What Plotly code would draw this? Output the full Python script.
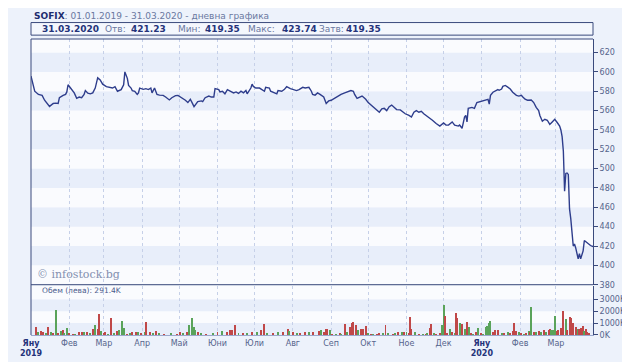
import plotly.graph_objects as go

# ---------------- data ----------------
price_dates = [
    "2019-01-01","2019-01-02","2019-01-04","2019-01-07","2019-01-10","2019-01-12","2019-01-15","2019-01-16",
    "2019-01-19","2019-01-21","2019-01-23","2019-01-24","2019-01-27","2019-01-29","2019-01-30","2019-01-31",
    "2019-02-02","2019-02-05","2019-02-07","2019-02-09","2019-02-11","2019-02-13","2019-02-14","2019-02-16",
    "2019-02-18","2019-02-20","2019-02-22","2019-02-24","2019-02-26","2019-02-28","2019-03-03","2019-03-05",
    "2019-03-08","2019-03-10","2019-03-12","2019-03-15","2019-03-16","2019-03-17","2019-03-18","2019-03-20",
    "2019-03-21","2019-03-23","2019-03-24","2019-03-26","2019-03-28","2019-03-29","2019-03-30","2019-04-02",
    "2019-04-04","2019-04-06","2019-04-08","2019-04-09","2019-04-11","2019-04-13","2019-04-15","2019-04-18",
    "2019-04-20","2019-04-23","2019-04-25","2019-04-28","2019-04-30","2019-05-03","2019-05-06","2019-05-08",
    "2019-05-10","2019-05-12","2019-05-13","2019-05-16","2019-05-19","2019-05-20","2019-05-22","2019-05-25",
    "2019-05-27","2019-05-29","2019-05-30","2019-06-02","2019-06-03","2019-06-05","2019-06-07","2019-06-09",
    "2019-06-11","2019-06-14","2019-06-16","2019-06-18","2019-06-20","2019-06-22","2019-06-24","2019-06-25",
    "2019-06-28","2019-06-29","2019-06-30","2019-07-02","2019-07-05","2019-07-07","2019-07-09","2019-07-10",
    "2019-07-13","2019-07-14","2019-07-17","2019-07-19","2019-07-20","2019-07-23","2019-07-25","2019-07-27",
    "2019-07-30","2019-08-01","2019-08-04","2019-08-06","2019-08-09","2019-08-11","2019-08-14","2019-08-16",
    "2019-08-17","2019-08-19","2019-08-21","2019-08-23","2019-08-26","2019-08-28","2019-08-30","2019-09-01",
    "2019-09-04","2019-09-06","2019-09-09","2019-09-12","2019-09-14","2019-09-17","2019-09-19","2019-09-20",
    "2019-09-22","2019-09-23","2019-09-26","2019-09-27","2019-09-29","2019-10-01","2019-10-04","2019-10-06",
    "2019-10-10","2019-10-12","2019-10-14","2019-10-16","2019-10-18","2019-10-20","2019-10-22","2019-10-24",
    "2019-10-27","2019-10-29","2019-10-31","2019-11-03","2019-11-05","2019-11-07","2019-11-09","2019-11-11",
    "2019-11-13","2019-11-15","2019-11-17","2019-11-20","2019-11-22","2019-11-25","2019-11-28","2019-12-01",
    "2019-12-03","2019-12-05","2019-12-08","2019-12-10","2019-12-13","2019-12-14","2019-12-16","2019-12-18",
    "2019-12-19","2019-12-20","2019-12-21","2019-12-24","2019-12-26","2019-12-28","2019-12-31","2020-01-03",
    "2020-01-06","2020-01-07","2020-01-08","2020-01-10","2020-01-12","2020-01-14","2020-01-15","2020-01-17",
    "2020-01-18","2020-01-20","2020-01-22","2020-01-24","2020-01-26","2020-01-29","2020-01-31","2020-02-02",
    "2020-02-03","2020-02-05","2020-02-07","2020-02-10","2020-02-12","2020-02-14","2020-02-16","2020-02-17",
    "2020-02-19","2020-02-21","2020-02-23","2020-02-25","2020-02-27","2020-02-29","2020-03-02","2020-03-04",
    "2020-03-05","2020-03-06","2020-03-07","2020-03-08","2020-03-09","2020-03-10","2020-03-11","2020-03-12",
    "2020-03-13","2020-03-14","2020-03-15","2020-03-16","2020-03-17","2020-03-19","2020-03-20","2020-03-21",
    "2020-03-23","2020-03-24","2020-03-26","2020-03-29","2020-03-31",
]
price_values = [
    595.7,590.0,580.0,576.7,575.7,570.7,566.7,564.3,
    567.3,567.7,567.3,573.3,575.7,576.7,579.3,586.7,
    583.3,578.3,572.7,574.0,573.3,576.7,580.7,578.0,
    577.3,578.3,583.3,594.0,591.7,587.3,584.7,584.0,
    583.3,584.7,580.0,581.7,584.0,586.7,600.0,593.3,
    586.0,583.3,580.7,580.0,576.7,578.3,583.3,582.0,
    582.7,581.7,583.3,578.3,583.3,576.7,576.0,575.7,
    574.0,571.0,573.3,575.5,575.7,573.3,570.7,568.3,
    571.7,566.7,564.0,569.3,570.0,569.3,573.3,575.0,
    574.0,574.0,582.7,581.7,579.3,580.0,577.3,581.7,
    580.0,578.3,579.3,577.7,580.0,578.3,580.7,577.3,
    583.3,587.3,585.0,583.3,583.3,581.7,580.0,584.0,
    583.3,580.0,578.3,577.3,580.7,580.0,581.7,584.7,
    582.7,581.7,580.7,581.7,584.0,583.3,584.0,580.0,
    576.7,576.0,578.3,576.7,574.0,567.3,570.0,570.7,
    573.3,575.0,576.7,578.3,579.3,580.7,580.0,576.7,
    572.7,573.3,575.0,574.0,571.7,568.3,565.0,562.3,
    558.3,561.7,562.3,560.0,564.0,565.7,563.3,561.0,
    560.7,558.3,556.7,555.0,553.3,558.3,560.0,558.3,
    559.3,556.7,555.0,551.7,550.0,546.7,544.0,547.3,
    545.0,545.0,548.3,545.0,544.0,545.0,541.7,553.3,
    555.0,548.3,562.3,563.3,562.3,568.3,569.3,570.0,
    571.7,566.7,575.7,579.0,580.0,581.7,581.0,582.3,
    585.0,586.0,584.3,582.3,579.0,575.7,575.0,575.7,
    574.3,571.7,570.7,571.0,568.3,563.3,560.0,555.0,
    549.0,551.0,550.0,545.7,548.3,551.0,547.7,544.0,
    540.0,533.0,518.0,476.7,495.0,495.5,494.0,458.3,
    448.3,435.0,420.0,422.0,418.0,406.7,412.0,406.7,
    415.0,425.7,423.3,420.5,419.35,
]

# volume in thousands of leva; direction u = up day (green), d = down day (red)
vol_dates = [
    "2019-01-05","2019-01-07","2019-01-09","2019-01-11","2019-01-13","2019-01-15","2019-01-17","2019-01-19",
    "2019-01-21","2019-01-23","2019-01-25","2019-01-27","2019-01-28","2019-01-30","2019-02-01","2019-02-04",
    "2019-02-06","2019-02-09","2019-02-11","2019-02-13","2019-02-15","2019-02-18","2019-02-20","2019-02-22",
    "2019-02-24","2019-02-25","2019-02-27","2019-03-01","2019-03-02","2019-03-04","2019-03-07","2019-03-09",
    "2019-03-12","2019-03-13","2019-03-16","2019-03-17","2019-03-20","2019-03-22","2019-03-24","2019-03-27",
    "2019-03-29","2019-03-31","2019-04-03","2019-04-04","2019-04-07","2019-04-10","2019-04-12","2019-04-15",
    "2019-04-19","2019-04-24","2019-04-29","2019-05-02","2019-05-04","2019-05-07","2019-05-09","2019-05-11",
    "2019-05-13","2019-05-14","2019-05-16","2019-05-19","2019-05-23","2019-05-28","2019-06-01","2019-06-05",
    "2019-06-09","2019-06-11","2019-06-13","2019-06-15","2019-06-18","2019-06-22","2019-06-25","2019-06-29",
    "2019-07-03","2019-07-06","2019-07-09","2019-07-11","2019-07-16","2019-07-20","2019-07-24","2019-07-28",
    "2019-07-29","2019-08-01","2019-08-04","2019-08-07","2019-08-11","2019-08-14","2019-08-17","2019-08-22",
    "2019-08-24","2019-08-26","2019-08-28","2019-08-29","2019-08-31","2019-09-02","2019-09-05","2019-09-08",
    "2019-09-09","2019-09-12","2019-09-14","2019-09-16","2019-09-18","2019-09-19","2019-09-21","2019-09-23",
    "2019-09-25","2019-09-27","2019-09-29","2019-10-01","2019-10-03","2019-10-05","2019-10-08","2019-10-10",
    "2019-10-13","2019-10-15","2019-10-17","2019-10-21","2019-10-23","2019-10-25","2019-10-28","2019-10-30",
    "2019-11-01","2019-11-03","2019-11-04","2019-11-05","2019-11-08","2019-11-11","2019-11-14","2019-11-17",
    "2019-11-18","2019-11-20","2019-11-21","2019-11-23","2019-11-25","2019-11-28","2019-11-30","2019-12-01",
    "2019-12-02","2019-12-04","2019-12-06","2019-12-08","2019-12-10","2019-12-11","2019-12-12","2019-12-14",
    "2019-12-16","2019-12-18","2019-12-20","2019-12-22","2019-12-23","2019-12-25","2019-12-27","2019-12-29",
    "2019-12-31","2020-01-02","2020-01-04","2020-01-05","2020-01-07","2020-01-08","2020-01-10","2020-01-12",
    "2020-01-14","2020-01-17","2020-01-19","2020-01-22","2020-01-24","2020-01-26","2020-01-27","2020-01-29",
    "2020-01-31","2020-02-02","2020-02-04","2020-02-06","2020-02-08","2020-02-09","2020-02-10","2020-02-12",
    "2020-02-14","2020-02-16","2020-02-18","2020-02-20","2020-02-22","2020-02-24","2020-02-25","2020-02-26",
    "2020-02-28","2020-02-29","2020-03-02","2020-03-03","2020-03-05","2020-03-06","2020-03-07","2020-03-09",
    "2020-03-10","2020-03-12","2020-03-13","2020-03-14","2020-03-15","2020-03-17","2020-03-19","2020-03-20",
    "2020-03-21","2020-03-23","2020-03-24","2020-03-25","2020-03-26","2020-03-28",
]
vol_values = [
    678,244,379,298,190,678,298,190,
    2141,190,325,407,190,596,190,136,
    136,244,298,271,244,190,515,840,
    515,1816,352,190,298,136,1490,190,
    325,461,1220,623,136,190,244,298,
    244,190,244,1138,244,190,325,190,
    136,190,136,244,190,244,867,1490,
    732,461,298,190,136,190,244,325,
    244,461,461,867,190,190,190,244,
    244,407,921,190,190,244,298,515,
    352,298,190,190,244,298,244,325,
    407,298,542,542,407,136,136,190,
    136,949,244,678,1003,1111,867,461,
    515,515,786,190,136,81,136,190,
    190,867,190,136,190,244,298,298,
    244,190,1545,569,298,136,136,136,
    190,596,949,190,136,190,867,2575,
    1600,190,515,244,190,1870,1463,1003,
    949,515,1084,678,190,136,244,596,
    190,136,678,786,1003,1220,244,461,
    407,190,190,244,190,325,1003,379,
    298,190,136,190,325,244,2412,298,
    244,325,244,407,298,461,569,407,
    461,1653,325,461,596,515,2087,1409,
    461,1545,1463,949,1057,678,515,569,
    596,786,325,515,298,190,
]
vol_dirs = (
    "d u d d u d u d "
    "u d u d u u d d "
    "u d d u d u d u "
    "d d u d d u d u "
    "d u u u d u d d "
    "u d u d d u d u "
    "d u d d u d u u "
    "u u d u d u d u "
    "d d d d u d u d "
    "u d d u d u d d "
    "u d u d d u d d "
    "u d d d u d u d "
    "u d u d d d d u "
    "d d d u d u d d "
    "u d u d u d u d "
    "u d d d u d u d "
    "u d d u d d u u "
    "d d u d u d d u "
    "d u d u d u d u "
    "d u u u u u d d "
    "d u d u d d d d "
    "u d u d u d u d "
    "u d u d u d d u "
    "u u d d d d d u "
    "d d d d d d u d "
    "d d u d d d"
).split()

month_ticks = [
    "2019-01-01","2019-02-01","2019-03-01","2019-04-01","2019-05-01","2019-06-01","2019-07-01","2019-08-01",
    "2019-09-01","2019-10-01","2019-11-01","2019-12-01","2020-01-01","2020-02-01","2020-03-01",
]
month_labels = [
    "Яну|2019","Фев","Мар","Апр","Май","Юни","Юли","Авг","Сеп","Окт","Ное","Дек","Яну|2020","Фев","Мар",
]
price_ticks = [380, 400, 420, 440, 460, 480, 500, 520, 540, 560, 580, 600, 620]
vol_ticks = [0, 1000, 2000, 3000]
vol_tick_labels = ["0K", "1000K", "2000K", "3000K"]

title_name = "SOFIX"
title_rest = ": 01.01.2019 - 31.03.2020 - дневна графика"
info_items = [("31.03.2020", True), ("Отв:", False), ("421.23", True), ("Мин:", False), ("419.35", True),
              ("Макс:", False), ("423.74", True), ("Затв:", False), ("419.35", True)]
volume_caption = "Обем (лева): 291.4K"
watermark = "© infostock.bg"

# ---------------- styling ----------------
NAVY = "#2e3d8c"
FRAME = "#3a4a7c"
LABEL = "#55648c"
BAND = "#e8eefa"
WHITE = "#fafbfe"
PAPER = "#edf2fb"
FONT = "DejaVu Sans"

vol_colors = ["#5aa35a" if d == "u" else "#c04848" for d in vol_dirs]

W, H = 630, 362
ML, MR, MT, MB = 15, 33, 31, 25
plot_h = H - MT - MB
price_bottom_px = 285
vol_top_px = 286
price_dom = [(H - MB - price_bottom_px) / plot_h, 1.0]
vol_dom = [0.0, (H - MB - vol_top_px) / plot_h]
vol_max = (H - MB - vol_top_px) / 12.3 * 1000


def px_y(py):
    return (H - MB - py) / plot_h


def px_x(px):
    return (px - ML) / (W - ML - MR)


fig = go.Figure()
fig.add_trace(go.Scatter(x=price_dates, y=price_values, mode="lines",
                         line=dict(color=NAVY, width=1.4), xaxis="x", yaxis="y",
                         hoverinfo="skip"))
fig.add_trace(go.Bar(x=vol_dates, y=vol_values, marker=dict(color=vol_colors, line=dict(width=0)),
                     width=0.8 * 86400000, xaxis="x", yaxis="y2", hoverinfo="skip"))

shapes = []
# price bands
lo = 380
while lo < 634:
    hi = min(lo + 20, 634)
    idx = (620 - hi) // 20 if hi <= 620 else -1
    color = BAND if (hi <= 620 and idx % 2 == 0) else WHITE
    shapes.append(dict(type="rect", xref="paper", yref="y", x0=0, x1=1, y0=lo, y1=hi,
                       fillcolor=color, line=dict(width=0), layer="below"))
    lo = hi
# volume bands
for lo_v, hi_v, c in [(0, 1000, BAND), (1000, 2000, WHITE), (2000, 3000, BAND), (3000, vol_max, WHITE)]:
    shapes.append(dict(type="rect", xref="paper", yref="y2", x0=0, x1=1, y0=lo_v, y1=hi_v,
                       fillcolor=c, line=dict(width=0), layer="below"))
# frame lines
shapes.append(dict(type="line", xref="paper", yref="paper", x0=0, x1=1, y0=1, y1=1,
                   line=dict(color=FRAME, width=1)))
shapes.append(dict(type="line", xref="paper", yref="paper", x0=0, x1=0, y0=0, y1=1,
                   line=dict(color=FRAME, width=1)))
shapes.append(dict(type="line", xref="paper", yref="paper", x0=0, x1=1, y0=price_dom[0], y1=price_dom[0],
                   line=dict(color=FRAME, width=1)))
# header info box
shapes.append(dict(type="rect", xref="paper", yref="paper", x0=0, x1=1, y0=px_y(27), y1=px_y(14),
                   fillcolor="#f4f7fd", line=dict(color=FRAME, width=1)))

annotations = []
annotations.append(dict(xref="paper", yref="paper", x=px_x(16), y=px_y(7), xanchor="left", yanchor="middle",
                        showarrow=False,
                        text=f"<b>{title_name}</b><span style='color:#6a78a0'>{title_rest}</span>",
                        font=dict(family=FONT, size=9, color="#1e2c6e")))
info_x = [24, 90, 116, 165, 193, 238, 273, 311, 339]
for (txt, bold), xp in zip(info_items, info_x):
    annotations.append(dict(xref="paper", yref="paper", x=px_x(xp), y=px_y(20.5), xanchor="left",
                            yanchor="middle", showarrow=False,
                            text=f"<b>{txt}</b>" if bold else txt,
                            font=dict(family=FONT, size=9, color="#24337a" if bold else "#6a78a0")))
annotations.append(dict(xref="paper", yref="paper", x=px_x(19), y=px_y(274), xanchor="left", yanchor="middle",
                        showarrow=False, text=watermark,
                        font=dict(family="DejaVu Serif", size=11, color="#8390b0")))
annotations.append(dict(xref="paper", yref="paper", x=px_x(24), y=px_y(290.5), xanchor="left", yanchor="middle",
                        showarrow=False, text=volume_caption,
                        font=dict(family=FONT, size=7.5, color="#4a5a8c")))

tick_text = []
for lab in month_labels:
    if "|" in lab:
        m, y = lab.split("|")
        tick_text.append(f"<b><span style='color:#24337a'>{m}</span></b><br><b><span style='color:#24337a'>{y}</span></b>")
    else:
        tick_text.append(lab)

fig.update_layout(
    width=W, height=H,
    margin=dict(l=ML, r=MR, t=MT, b=MB, pad=0),
    paper_bgcolor=PAPER, plot_bgcolor=WHITE,
    showlegend=False, bargap=0,
    shapes=shapes, annotations=annotations,
    xaxis=dict(type="date", range=["2019-01-01", "2020-03-31"], anchor="y2",
               tickvals=month_ticks, ticktext=tick_text, ticks="",
               tickfont=dict(family=FONT, size=8, color=LABEL),
               showgrid=True, gridcolor="#c6d0e8", griddash="dot", gridwidth=1,
               showline=True, linecolor="#9aa7cc", linewidth=1, zeroline=False,
               fixedrange=True),
    yaxis=dict(domain=price_dom, range=[380, 634], side="right", anchor="x",
               tickvals=price_ticks, ticks="outside", ticklen=4, tickcolor=FRAME,
               tickfont=dict(family=FONT, size=8, color=LABEL),
               showgrid=False, zeroline=False, showline=True, linecolor=FRAME, linewidth=1),
    yaxis2=dict(domain=vol_dom, range=[0, vol_max], side="right", anchor="x",
                tickvals=vol_ticks, ticktext=vol_tick_labels, ticks="outside", ticklen=4, tickcolor=FRAME,
                tickfont=dict(family=FONT, size=8, color=LABEL),
                showgrid=False, zeroline=False, showline=True, linecolor=FRAME, linewidth=1),
)

fig.write_html("out.html")
